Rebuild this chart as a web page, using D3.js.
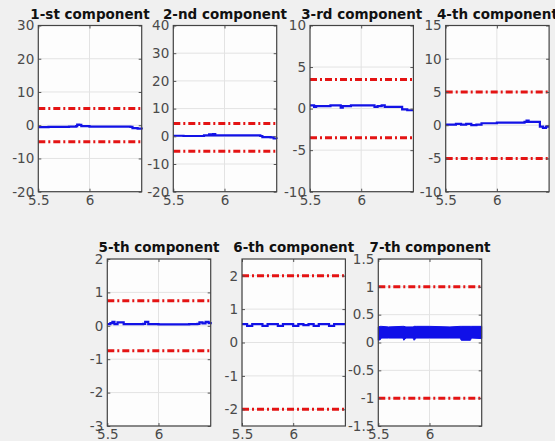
<!DOCTYPE html>
<html>
<head>
<meta charset="utf-8">
<script src="https://cdn.jsdelivr.net/npm/d3@7"></script>
<style>
  html, body { margin: 0; padding: 0; background: #f0f0f0; }
  svg { display: block; }
</style>
</head>
<body>
<svg id="chart" width="555" height="441"></svg>
<script>
// Panel titles, axis ranges and ticks
const titles = ["1-st component", "2-nd component", "3-rd component", "4-th component",
                "5-th component", "6-th component", "7-th component"];
const yDomains = [[-20, 30], [-20, 40], [-10, 10], [-10, 15], [-3, 2], [-2.5, 2.5], [-1.5, 1.5]];
const yTickValues = [
  [-20, -10, 0, 10, 20, 30],
  [-20, -10, 0, 10, 20, 30, 40],
  [-10, -5, 0, 5, 10],
  [-10, -5, 0, 5, 10, 15],
  [-3, -2, -1, 0, 1, 2],
  [-2, -1, 0, 1, 2],
  [-1.5, -1, -0.5, 0, 0.5, 1, 1.5]
];
const xDomain = [5.5, 6.51];
const xTickValues = [5.5, 6];

// Control limits (red dash-dot lines)
const upperLimits = [5, 4.6, 3.5, 5, 0.75, 2, 1];
const lowerLimits = [-5, -5.4, -3.5, -5, -0.75, -2, -1];

// Component traces as [time, value]
const comp1 = [[5.5,-0.6],[5.6,-0.5],[5.7,-0.5],[5.8,-0.4],[5.87,-0.3],[5.88,0.2],[5.9,0.1],[5.92,-0.3],
  [6.0,-0.4],[6.1,-0.4],[6.2,-0.4],[6.3,-0.4],[6.4,-0.5],[6.42,-0.9],[6.47,-1.0],[6.51,-1.3]];
const comp2 = [[5.5,0.2],[5.6,0.1],[5.7,0.1],[5.8,0.3],[5.85,0.7],[5.87,0.3],[5.89,0.8],[5.91,0.3],
  [6.0,0.3],[6.1,0.3],[6.2,0.3],[6.3,0.3],[6.35,0.1],[6.37,-0.3],[6.45,-0.4],[6.48,-0.8],[6.51,-0.9]];
const comp3 = [[5.5,0.4],[5.53,0.4],[5.54,0.2],[5.56,0.3],[5.65,0.3],[5.7,0.4],[5.78,0.4],[5.8,0.1],
  [5.82,0.3],[5.9,0.4],[6.0,0.4],[6.1,0.4],[6.13,0.2],[6.16,0.3],[6.2,0.4],[6.23,0.2],[6.3,0.2],
  [6.37,0.2],[6.4,-0.1],[6.45,-0.2],[6.51,-0.2]];
const comp4 = [[5.5,0.1],[5.6,0.2],[5.65,0.1],[5.7,0.2],[5.75,0.0],[5.8,0.1],[5.85,0.3],[5.9,0.3],
  [6.0,0.4],[6.1,0.4],[6.2,0.4],[6.27,0.5],[6.29,0.7],[6.31,0.5],[6.38,0.5],[6.42,-0.2],[6.45,-0.4],
  [6.48,-0.2],[6.51,-0.2]];
const comp5 = [[5.5,0.05],[5.53,0.08],[5.55,0.12],[5.57,0.05],[5.6,0.1],[5.63,0.1],[5.66,0.05],
  [5.8,0.05],[5.85,0.06],[5.87,0.12],[5.9,0.05],[6.0,0.04],[6.1,0.04],[6.2,0.04],[6.3,0.05],
  [6.38,0.06],[6.4,0.1],[6.43,0.07],[6.46,0.12],[6.49,0.08],[6.51,0.05]];
const comp6 = [[5.5,0.55],[5.55,0.5],[5.6,0.55],[5.65,0.55],[5.7,0.5],[5.75,0.55],[5.8,0.55],
  [5.85,0.5],[5.9,0.55],[5.95,0.55],[6.0,0.5],[6.05,0.55],[6.1,0.52],[6.15,0.55],[6.2,0.5],
  [6.25,0.55],[6.3,0.55],[6.35,0.5],[6.4,0.55],[6.45,0.55],[6.51,0.55]];
// 7th component oscillates fast: drawn as its envelope
const comp7X    = [5.5, 5.52, 5.53, 5.6, 5.74, 5.75, 5.77, 5.84, 5.85, 5.87, 6.0, 6.2, 6.3, 6.31, 6.4, 6.41, 6.51];
const comp7Low  = [0.04, 0.05, 0.08, 0.08, 0.08, 0.04, 0.08, 0.08, 0.04, 0.08, 0.08, 0.08, 0.08, 0.04, 0.04, 0.08, 0.07];
const comp7High = [0.28, 0.29, 0.29, 0.28, 0.29, 0.29, 0.28, 0.28, 0.29, 0.29, 0.29, 0.28, 0.29, 0.29, 0.29, 0.29, 0.29];

const traces = [comp1, comp2, comp3, comp4, comp5, comp6, null];

// Panel placement on the figure
const pw = 103.4;
const frames = [
  { x: 38.3,  y: 25.5, h: 166.2 },
  { x: 173.3, y: 25.5, h: 166.2 },
  { x: 310.0, y: 25.5, h: 166.2 },
  { x: 445.7, y: 25.5, h: 166.2 },
  { x: 107.3, y: 259,  h: 167 },
  { x: 242.0, y: 259,  h: 167 },
  { x: 378.3, y: 259,  h: 167 }
];

const svg = d3.select("#chart");
const font = "DejaVu Sans, sans-serif";
const plain = d => String(d);   // ASCII hyphen for negatives

frames.forEach((f, i) => {
  const g = svg.append("g").attr("transform", `translate(${f.x},${f.y})`);
  const x = d3.scaleLinear().domain(xDomain).range([0, pw]);
  const y = d3.scaleLinear().domain(yDomains[i]).range([f.h, 0]);

  g.append("rect").attr("width", pw).attr("height", f.h).attr("fill", "#fdfdfd");

  // grid
  g.selectAll(".gy").data(yTickValues[i]).enter().append("line")
    .attr("x1", 0).attr("x2", pw).attr("y1", d => y(d)).attr("y2", d => y(d))
    .attr("stroke", "#e3e3e3").attr("stroke-width", 1);
  g.selectAll(".gx").data(xTickValues).enter().append("line")
    .attr("x1", d => x(d)).attr("x2", d => x(d)).attr("y1", 0).attr("y2", f.h)
    .attr("stroke", "#e3e3e3").attr("stroke-width", 1);

  // limits
  [upperLimits[i], lowerLimits[i]].forEach(v => {
    g.append("line")
      .attr("x1", x(xDomain[0])).attr("x2", x(xDomain[1]))
      .attr("y1", y(v)).attr("y2", y(v))
      .attr("stroke", "#e41414").attr("stroke-width", 3)
      .attr("stroke-dasharray", "7,3,2,3");
  });

  // trace
  if (traces[i]) {
    g.append("path").datum(traces[i])
      .attr("d", d3.line().x(d => x(d[0])).y(d => y(d[1])).curve(d3.curveStepAfter))
      .attr("fill", "none").attr("stroke", "#1212e6").attr("stroke-width", 2.2);
  } else {
    const band = comp7X.map((t, k) => [t, comp7Low[k], comp7High[k]]);
    g.append("path").datum(band)
      .attr("d", d3.area().x(d => x(d[0])).y0(d => y(d[1])).y1(d => y(d[2])))
      .attr("fill", "#1010e8").attr("stroke", "#1010e8").attr("stroke-width", 1);
  }

  // axes
  const yAxis = d3.axisLeft(y).tickValues(yTickValues[i]).tickSize(-3).tickPadding(4)
    .tickFormat(plain);
  const yAxisR = d3.axisRight(y).tickValues(yTickValues[i]).tickSize(-3).tickFormat("");
  const xAxis = d3.axisBottom(x).tickValues(xTickValues).tickSize(-3).tickPadding(5)
    .tickFormat(plain);
  const xAxisT = d3.axisTop(x).tickValues(xTickValues).tickSize(-3).tickFormat("");

  const styleAxis = a => {
    a.select(".domain").remove();
    a.selectAll("line").attr("stroke", "#555");
    a.selectAll("text").attr("fill", "#4a4a4a").style("font-family", font).style("font-size", "13.5px");
  };
  g.append("g").call(yAxis).call(styleAxis);
  g.append("g").attr("transform", `translate(${pw},0)`).call(yAxisR).call(styleAxis);
  g.append("g").attr("transform", `translate(0,${f.h})`).call(xAxis).call(styleAxis)
    .selectAll("text").attr("dy", "0.6em");
  g.append("g").call(xAxisT).call(styleAxis);

  g.append("rect").attr("width", pw).attr("height", f.h)
    .attr("fill", "none").attr("stroke", "#444").attr("stroke-width", 1.2);

  g.append("text")
    .attr("x", pw / 2).attr("y", -7)
    .attr("text-anchor", "middle")
    .style("font-family", font).style("font-size", "13.5px").style("font-weight", "bold")
    .attr("fill", "#111")
    .text(titles[i]);
});
</script>
</body>
</html>
